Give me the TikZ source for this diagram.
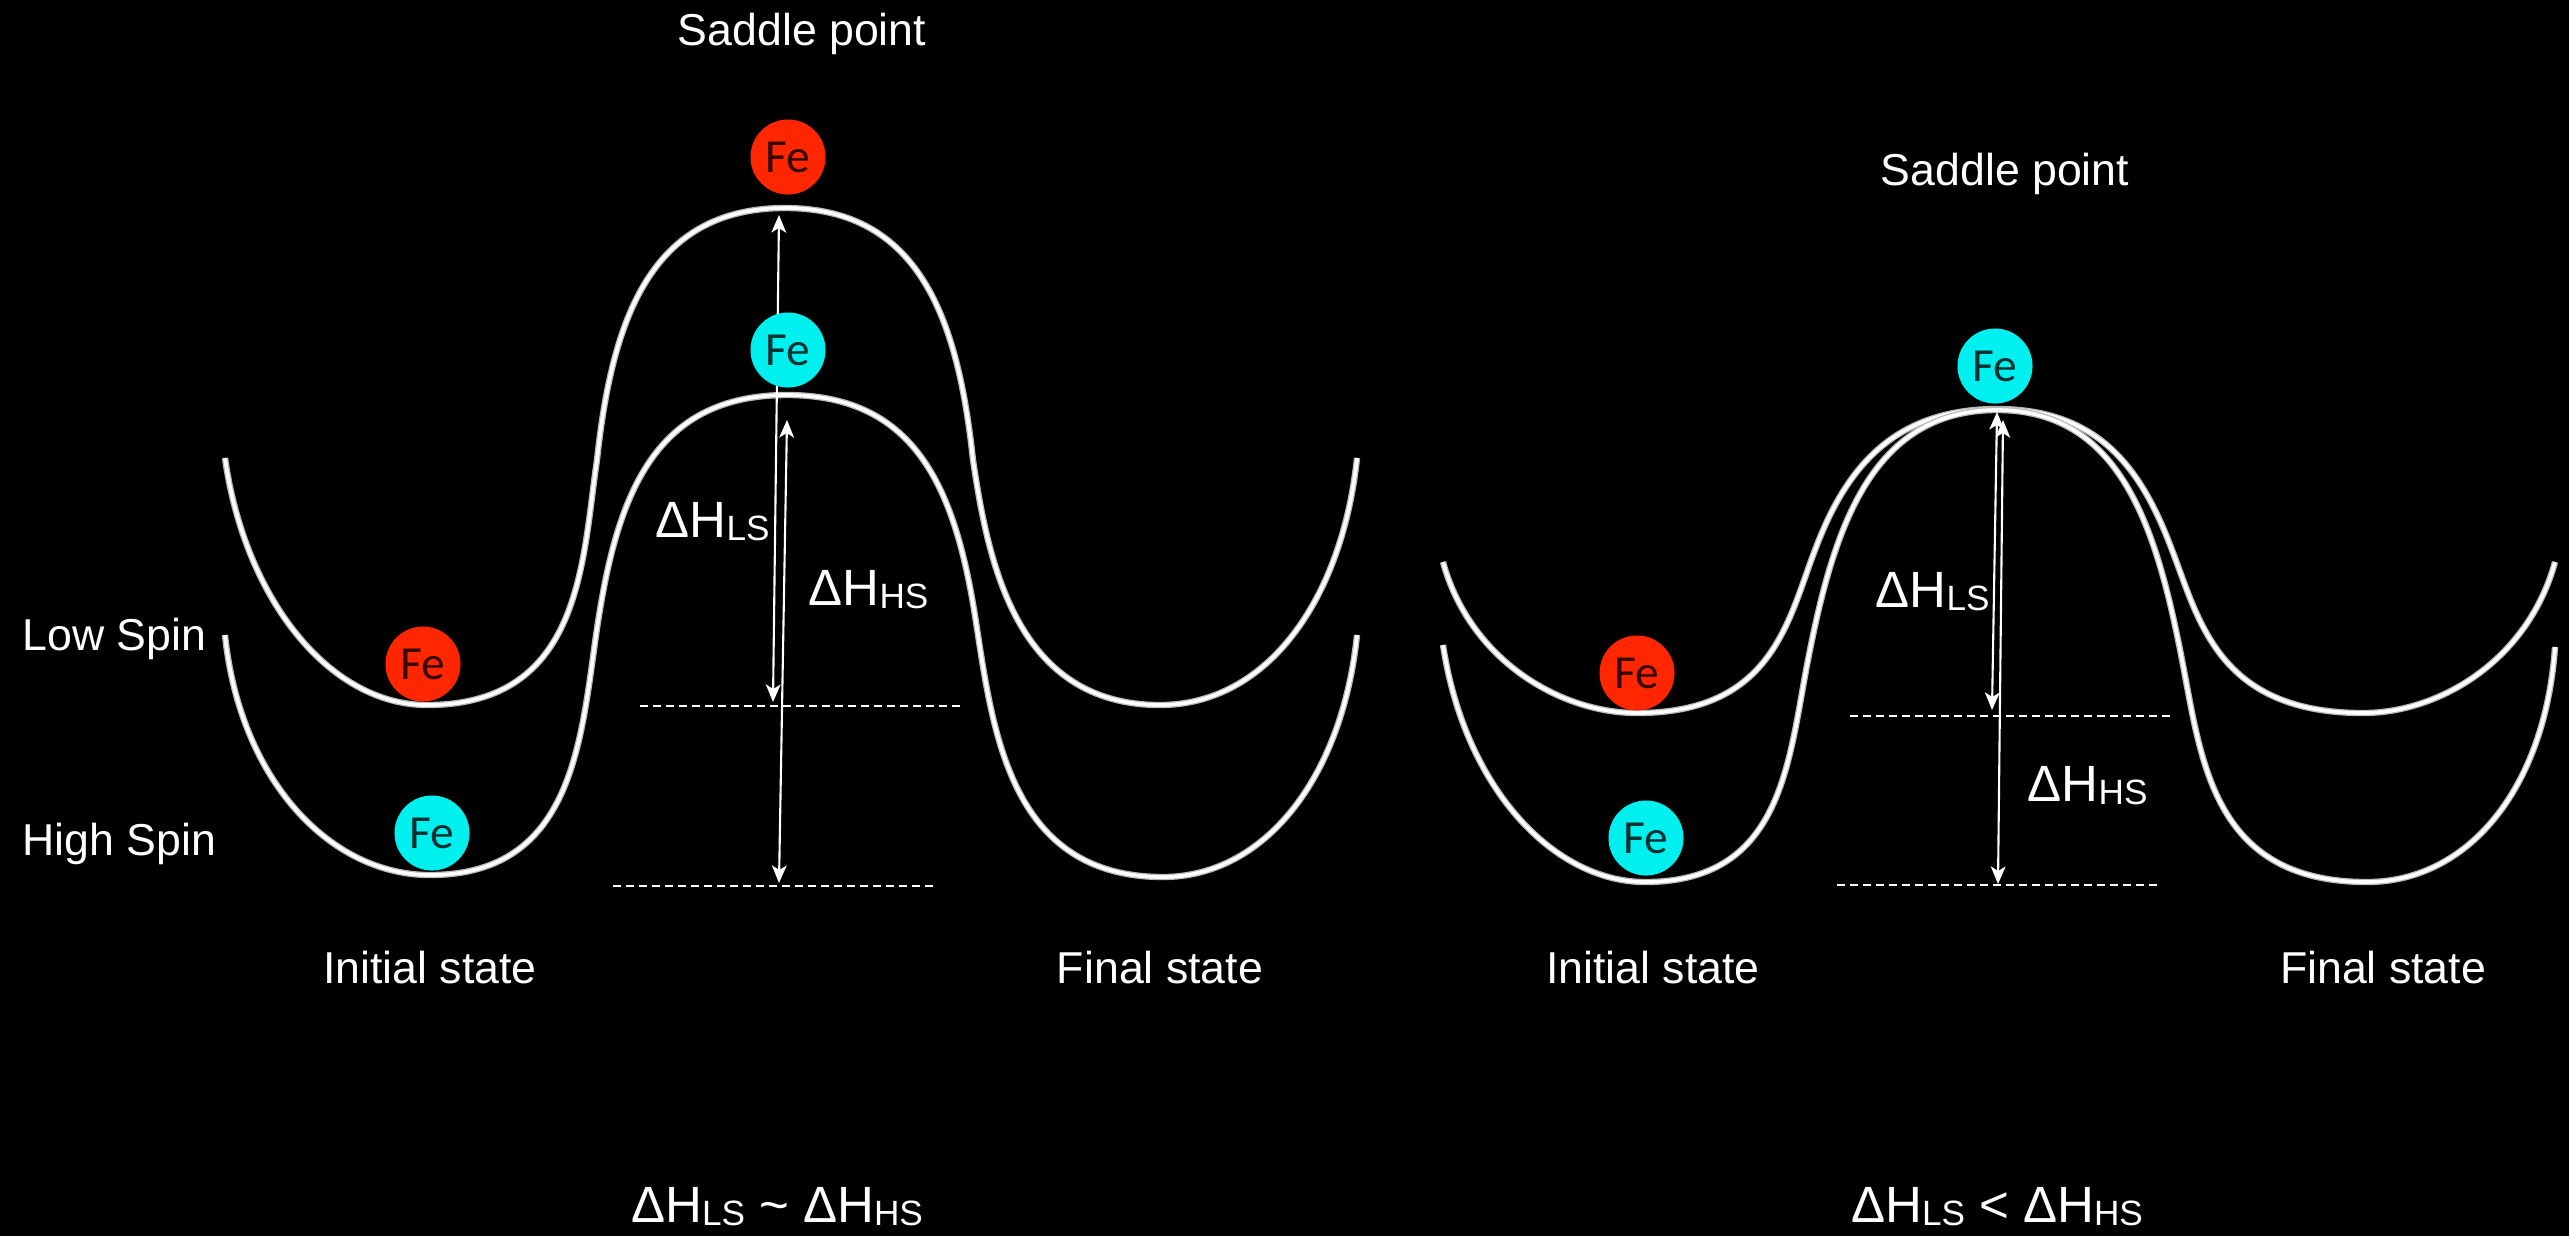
\documentclass[tikz,border=0pt]{standalone}
\usepackage{fontspec}
\setmainfont{Liberation Sans}
\newfontfamily\fefont{Carlito}
\usetikzlibrary{arrows.meta}
\definecolor{feRed}{RGB}{255,38,0}
\definecolor{feCyan}{RGB}{0,240,240}
\newcommand{\dHx}[1]{ΔH\lower0.9pt\hbox{\fontsize{10}{12}\selectfont #1}}
\begin{document}
\begin{tikzpicture}[x=0.01cm, y=-0.01cm,
  pes/.style={draw=white, line width=1.05pt, preaction={draw=gray!55, line width=1.8pt}},
  level/.style={draw=white, line width=0.8pt, dash pattern=on 2.2pt off 1.5pt},
  gap/.style={draw=white, line width=0.6pt, {Stealth[length=5pt,width=4.2pt,inset=1.3pt]}-{Stealth[length=5pt,width=4.2pt,inset=1.3pt]}},
  fe/.style={circle, minimum size=0.75cm, inner sep=0pt, font=\fefont\fontsize{13.5}{15}\selectfont, text=black, text opacity=0.8},
  lbl/.style={font=\fontsize{12.7}{15}\selectfont, text=white, inner sep=0pt},
  dlbl/.style={font=\fontsize{14.5}{17}\selectfont, text=white, inner sep=0pt}]
\useasboundingbox (0,0) rectangle (2569,1235);
\fill[black] (-20,-20) rectangle (2589,1255);

% ---------- left diagram curves ----------
% low spin (upper well)
\draw[pes] (225,458) .. controls (245,600) and (330,705) .. (427,705)
  .. controls (583,705) and (582,560) .. (597,460)
  .. controls (612,320) and (650,208) .. (785,208)
  .. controls (920,208) and (958,320) .. (973,460)
  .. controls (988,560) and (1015,705) .. (1160,705)
  .. controls (1267,705) and (1342,600) .. (1357,458);
% high spin (lower well)
\draw[pes] (225,635) .. controls (240,780) and (330,875) .. (430,875)
  .. controls (578,875) and (581,732) .. (598,622)
  .. controls (618,492) and (656,395) .. (787,395)
  .. controls (918,395) and (956,492) .. (976,622)
  .. controls (993,732) and (1010,877) .. (1163,877)
  .. controls (1263,877) and (1342,780) .. (1357,635);

% ---------- right diagram curves ----------
% low spin (upper well)
\draw[pes] (1443,562) .. controls (1470,660) and (1560,713) .. (1637,713)
  .. controls (1773,713) and (1788,620) .. (1815,550)
  .. controls (1845,470) and (1892,409) .. (1997,409)
  .. controls (2100,409) and (2142,470) .. (2172,550)
  .. controls (2199,620) and (2218,713) .. (2363,713)
  .. controls (2440,713) and (2528,660) .. (2555,562);
% high spin (lower well)
\draw[pes] (1443,645) .. controls (1465,790) and (1555,882) .. (1645,882)
  .. controls (1781,882) and (1788,765) .. (1807,665)
  .. controls (1832,535) and (1868,410) .. (1997,410)
  .. controls (2124,410) and (2158,535) .. (2183,665)
  .. controls (2202,765) and (2215,882) .. (2367,882)
  .. controls (2467,882) and (2545,790) .. (2555,647);

% ---------- coordinates ----------
\coordinate (dLa) at (640,706);  \coordinate (dLb) at (963,706);
\coordinate (dLc) at (613,886);  \coordinate (dLd) at (937,886);
\coordinate (dRa) at (1850,716); \coordinate (dRb) at (2175,716);
\coordinate (dRc) at (1837,885); \coordinate (dRd) at (2162,885);
\coordinate (aL1t) at (779,215); \coordinate (aL1b) at (773,702);
\coordinate (aL2t) at (787,420); \coordinate (aL2b) at (779,883);
\coordinate (aR1t) at (1997,412); \coordinate (aR1b) at (1992,710);
\coordinate (aR2t) at (2003,420); \coordinate (aR2b) at (1998,884);

% ---------- dashed levels ----------
\draw[level] (dLa) -- (dLb);
\draw[level] (dLc) -- (dLd);
\draw[level] (dRa) -- (dRb);
\draw[level] (dRc) -- (dRd);

% ---------- arrows ----------
\draw[gap] (aL1b) -- (aL1t);
\draw[gap] (aL2b) -- (aL2t);
\draw[gap] (aR1b) -- (aR1t);
\draw[gap] (aR2b) -- (aR2t);

% ---------- Fe atoms ----------
\node[fe, fill=feRed]  (feL1) at (788,157) {Fe};
\node[fe, fill=feCyan] (feL2) at (788,350) {Fe};
\node[fe, fill=feRed]  (feL3) at (423,664) {Fe};
\node[fe, fill=feCyan] (feL4) at (432,833) {Fe};
\node[fe, fill=feRed]  (feR1) at (1637,673) {Fe};
\node[fe, fill=feCyan] (feR2) at (1646,838) {Fe};
\node[fe, fill=feCyan] (feR3) at (1995,366) {Fe};

% ---------- labels ----------
\node[lbl, anchor=base] (sp1) at (802,45) {Saddle point};
\node[lbl, anchor=base] (sp2) at (2005,185) {Saddle point};
\node[lbl, anchor=base west] (lspin) at (22,650) {Low Spin};
\node[lbl, anchor=base west] (hspin) at (22,855) {High Spin};
\node[lbl, anchor=base] (is1) at (430,983) {Initial state};
\node[lbl, anchor=base] (fs1) at (1160,983) {Final state};
\node[lbl, anchor=base] (is2) at (1653,983) {Initial state};
\node[lbl, anchor=base] (fs2) at (2383,983) {Final state};
\node[dlbl, anchor=base west] (dls1) at (655,537) {\dHx{LS}};
\node[dlbl, anchor=base west] (dhs1) at (808,605) {\dHx{HS}};
\node[dlbl, anchor=base west] (dls2) at (1875,607) {\dHx{LS}};
\node[dlbl, anchor=base west] (dhs2) at (2027,801) {\dHx{HS}};
\node[dlbl, anchor=base] (eq1) at (777,1222) {\dHx{LS} \textasciitilde{} \dHx{HS}};
\node[dlbl, anchor=base] (eq2) at (1997,1222) {\dHx{LS} < \dHx{HS}};
\end{tikzpicture}
\end{document}
